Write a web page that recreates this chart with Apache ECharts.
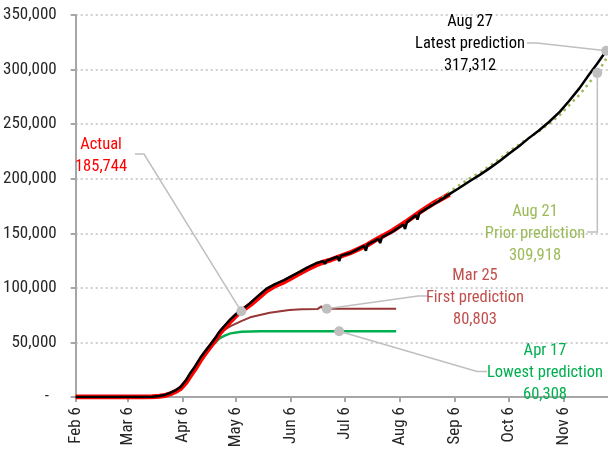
<!DOCTYPE html>
<html><head><meta charset="utf-8">
<script src="https://cdn.jsdelivr.net/npm/echarts@6/dist/echarts.min.js"></script>
<style>html,body{margin:0;padding:0;background:#fff}#c{width:608px;height:455px}</style>
</head><body><div id="c"></div>
<script>
const FONT = '"Roboto Condensed", "Liberation Sans", sans-serif';
const MONTHS = ['Jan','Feb','Mar','Apr','May','Jun','Jul','Aug','Sep','Oct','Nov','Dec'];

// ---- axis ticks ----
const xTickDates = ['2020-02-06','2020-03-06','2020-04-06','2020-05-06','2020-06-06','2020-07-06','2020-08-06','2020-09-06','2020-10-06','2020-11-06'];
const xRange = ['2020-02-06','2020-12-01'];
const yTicks = [0, 50000, 100000, 150000, 200000, 250000, 300000, 350000];

// ---- series values [date, deaths] ----
const actual = [
 ['2020-02-06',0],['2020-03-01',0],['2020-03-10',25],['2020-03-15',60],['2020-03-20',220],['2020-03-24',600],
 ['2020-03-27',1300],['2020-03-30',2800],['2020-04-02',5000],['2020-04-05',8000],['2020-04-08',13500],['2020-04-10',18500],
 ['2020-04-13',25500],['2020-04-16',33500],['2020-04-19',40500],['2020-04-22',47000],['2020-04-25',53500],['2020-04-27',58500],
 ['2020-04-30',64000],['2020-05-03',69500],['2020-05-06',74500],['2020-05-09',78500],['2020-05-14',84500],['2020-05-18',90000],
 ['2020-05-23',97000],['2020-05-28',102000],['2020-06-02',105500],['2020-06-07',110000],['2020-06-11',113500],['2020-06-15',117000],
 ['2020-06-20',121000],['2020-06-24',123500],['2020-06-28',125500],['2020-07-03',128500],['2020-07-09',132000],['2020-07-13',135000],
 ['2020-07-19',139500],['2020-07-23',143500],['2020-07-27',147000],['2020-08-02',152500],['2020-08-10',161000],['2020-08-17',169000],
 ['2020-08-22',174500],['2020-08-26',178500],['2020-08-30',182000],['2020-09-03',185744]
];
const latest = [
 ['2020-02-06',0],['2020-03-01',0],['2020-03-10',30],['2020-03-15',80],['2020-03-20',300],['2020-03-24',900],
 ['2020-03-27',1900],['2020-03-30',3700],['2020-04-02',6000],['2020-04-05',9400],['2020-04-08',15500],['2020-04-10',21000],
 ['2020-04-13',28000],['2020-04-16',35900],['2020-04-19',42500],['2020-04-22',48800],['2020-04-25',55500],['2020-04-27',60400],
 ['2020-04-30',66000],['2020-05-03',71400],['2020-05-06',75800],['2020-05-09',79500],['2020-05-14',86000],['2020-05-18',92000],
 ['2020-05-23',99000],['2020-05-28',103500],['2020-06-02',107000],['2020-06-07',111500],['2020-06-11',114800],['2020-06-15',118500],
 ['2020-06-20',122500],['2020-06-24',124500],['2020-06-25',122000],['2020-06-26',125000],['2020-06-28',126000],['2020-07-02',128500],
 ['2020-07-03',124500],['2020-07-04',129500],['2020-07-09',131700],['2020-07-13',135000],['2020-07-17',138500],['2020-07-18',134000],
 ['2020-07-19',139800],['2020-07-23',143000],['2020-07-25',145000],['2020-07-26',141000],['2020-07-27',146200],['2020-08-02',151400],
 ['2020-08-08',158000],['2020-08-09',154000],['2020-08-10',159800],['2020-08-15',166500],['2020-08-16',162500],['2020-08-17',168300],
 ['2020-08-22',173500],['2020-08-26',177500],['2020-08-30',181500],['2020-09-04',187000],['2020-09-08',191000],['2020-09-14',197500],
 ['2020-09-20',203500],['2020-09-25',209000],['2020-10-01',216000],['2020-10-06',222500],['2020-10-12',229800],['2020-10-17',236500],
 ['2020-10-23',244000],['2020-10-29',252200],['2020-11-04',261500],['2020-11-09',271000],['2020-11-15',283000],['2020-11-20',294500],
 ['2020-11-25',305500],['2020-11-30',317312]
];
const prior = [
 ['2020-08-21',172500],['2020-08-28',180500],['2020-09-06',191500],['2020-09-14',200000],['2020-09-20',205500],['2020-09-25',211000],
 ['2020-10-01',218000],['2020-10-06',224500],['2020-10-14',233500],['2020-10-20',240000],['2020-10-25',245500],['2020-10-29',250500],
 ['2020-11-04',258500],['2020-11-09',267000],['2020-11-15',277000],['2020-11-20',287000],['2020-11-25',297000],['2020-11-30',309918]
];
const first = [
 ['2020-02-06',0],['2020-03-01',0],['2020-03-15',60],['2020-03-20',250],['2020-03-24',700],['2020-03-27',1500],
 ['2020-03-30',3200],['2020-04-02',5500],['2020-04-05',9000],['2020-04-08',14500],['2020-04-10',19500],['2020-04-13',26500],
 ['2020-04-16',34000],['2020-04-19',42000],['2020-04-22',49000],['2020-04-25',55000],['2020-04-28',60000],['2020-05-03',65000],
 ['2020-05-09',69500],['2020-05-14',73000],['2020-05-25',77200],['2020-06-05',79700],['2020-06-12',80300],['2020-06-21',80700],
 ['2020-06-22',80750],['2020-06-23',83000],['2020-06-24',80800],['2020-08-04',80803]
];
const lowest = [
 ['2020-02-06',0],['2020-03-01',0],['2020-03-15',60],['2020-03-20',250],['2020-03-24',700],['2020-03-27',1500],
 ['2020-03-30',3200],['2020-04-02',5500],['2020-04-05',9000],['2020-04-08',14500],['2020-04-10',19500],['2020-04-13',26500],
 ['2020-04-16',32300],['2020-04-19',40000],['2020-04-22',46100],['2020-04-25',51000],['2020-04-27',54000],['2020-04-30',56500],
 ['2020-05-03',58300],['2020-05-09',59700],['2020-05-20',60200],['2020-06-10',60290],['2020-08-04',60308]
];

// ---- annotation texts and anchor points (data space) ----
const noteActual = ['Actual','185,744'];
const noteLatest = ['Aug 27','Latest prediction','317,312'];
const notePrior  = ['Aug 21','Prior prediction','309,918'];
const noteFirst  = ['Mar 25','First prediction','80,803'];
const noteLowest = ['Apr 17','Lowest prediction','60,308'];
const dotActual = ['2020-05-09', 78500];
const dotLatest = ['2020-11-30', 317312];
const dotPrior  = ['2020-11-25', 297000];
const dotFirst  = ['2020-06-26', 80803];
const dotLowest = ['2020-07-03', 60308];

// x axis is "days since Feb 6, 2020"
const DAY0 = Date.UTC(2020, 1, 6);
function d(s){ const p = s.split('-'); return Math.round((Date.UTC(+p[0], +p[1]-1, +p[2]) - DAY0) / 86400000); }
function lab(n){ const t = new Date(DAY0 + n * 86400000); return MONTHS[t.getUTCMonth()] + ' ' + t.getUTCDate(); }
function pts(arr){ return arr.map(r => [d(r[0]), r[1]]); }

const chart = echarts.init(document.getElementById('c'), null, {renderer:'canvas'});
const AX = '#A6A6A6';
const tickVals = xTickDates.map(d);

chart.setOption({
  animation: false,
  backgroundColor: '#fff',
  grid: {left: 75, right: 0, top: 15, bottom: 58, containLabel: false},
  xAxis: {
    type: 'value', min: d(xRange[0]), max: d(xRange[1]),
    axisLine: {show: true, onZero: false, lineStyle: {color: AX, width: 2}},
    axisTick: {show: true, customValues: tickVals, length: 5, lineStyle: {color: AX, width: 2}},
    axisLabel: {customValues: tickVals, rotate: 90, margin: 10, fontFamily: FONT, fontSize: 17, color: '#262626',
      formatter: v => lab(v)},
    splitLine: {show: false}
  },
  yAxis: {
    type: 'value', min: yTicks[0], max: yTicks[yTicks.length-1], interval: yTicks[1]-yTicks[0],
    axisLine: {show: true, lineStyle: {color: AX, width: 2}},
    axisTick: {show: true, length: 5, lineStyle: {color: AX, width: 2}},
    axisLabel: {margin: 19, fontFamily: FONT, fontSize: 17, color: '#262626',
      formatter: v => v === 0 ? '-  ' : v.toLocaleString('en-US')},
    splitLine: {show: true, lineStyle: {color: '#BFBFBF', width: 1.5, type: [2, 3]}}
  },
  series: [
    {name:'Lowest', type:'line', data: pts(lowest), symbol:'none', lineStyle:{color:'#00B050', width:2.5}, z:2},
    {name:'First', type:'line', data: pts(first), symbol:'none', lineStyle:{color:'#953735', width:2}, z:3},
    {name:'Actual', type:'line', data: pts(actual), symbol:'none', lineStyle:{color:'#FF0000', width:5}, z:4},
    {name:'Prior', type:'line', data: pts(prior), symbol:'none', lineStyle:{color:'#9BBB59', width:2.5, type:[2.5,4]}, z:5},
    {name:'Latest', type:'line', data: pts(latest), symbol:'none', lineStyle:{color:'#000000', width:2.5}, z:6}
  ]
});

// ---- annotations: text (pixel layout), leader lines to data-space dots ----
const notes = [
  {text: noteActual, color:'#FF0000', cx:101, y0:145, leader:[[135,154],[144,154]], dot: dotActual},
  {text: noteLatest, color:'#000000', cx:470, y0:22,  leader:[[527,43],[537,43]], dot: dotLatest},
  {text: notePrior,  color:'#9BBB59', cx:535, y0:212, leader:[[587,232],['dotx',232]], dot: dotPrior},
  {text: noteFirst,  color:'#C0504D', cx:475, y0:276, leader:[[428,296],[418,296]], dot: dotFirst},
  {text: noteLowest, color:'#00B050', cx:545, y0:351, leader:[[487,371.5],[477,371.5]], dot: dotLowest}
];
const graphics = [];
notes.forEach(n => {
  const p = chart.convertToPixel({gridIndex:0}, [d(n.dot[0]), n.dot[1]]);
  const pl = n.leader.map(q => [q[0] === 'dotx' ? p[0] : q[0], q[1]]);
  pl.push(p);
  graphics.push({type:'polyline', shape:{points: pl}, style:{stroke:'#BFBFBF', lineWidth:1.5, fill:null}, z:50});
  graphics.push({type:'circle', shape:{cx:p[0], cy:p[1], r:5}, style:{fill:'#BFBFBF'}, z:51});
  n.text.forEach((t, i) => {
    graphics.push({type:'text', x:n.cx, y:n.y0 + i*22, z:60,
      style:{text:t, fill:n.color, font:'16.5px ' + FONT, textAlign:'center', textVerticalAlign:'middle'}});
  });
});
chart.setOption({graphic: graphics});
</script></body></html>
